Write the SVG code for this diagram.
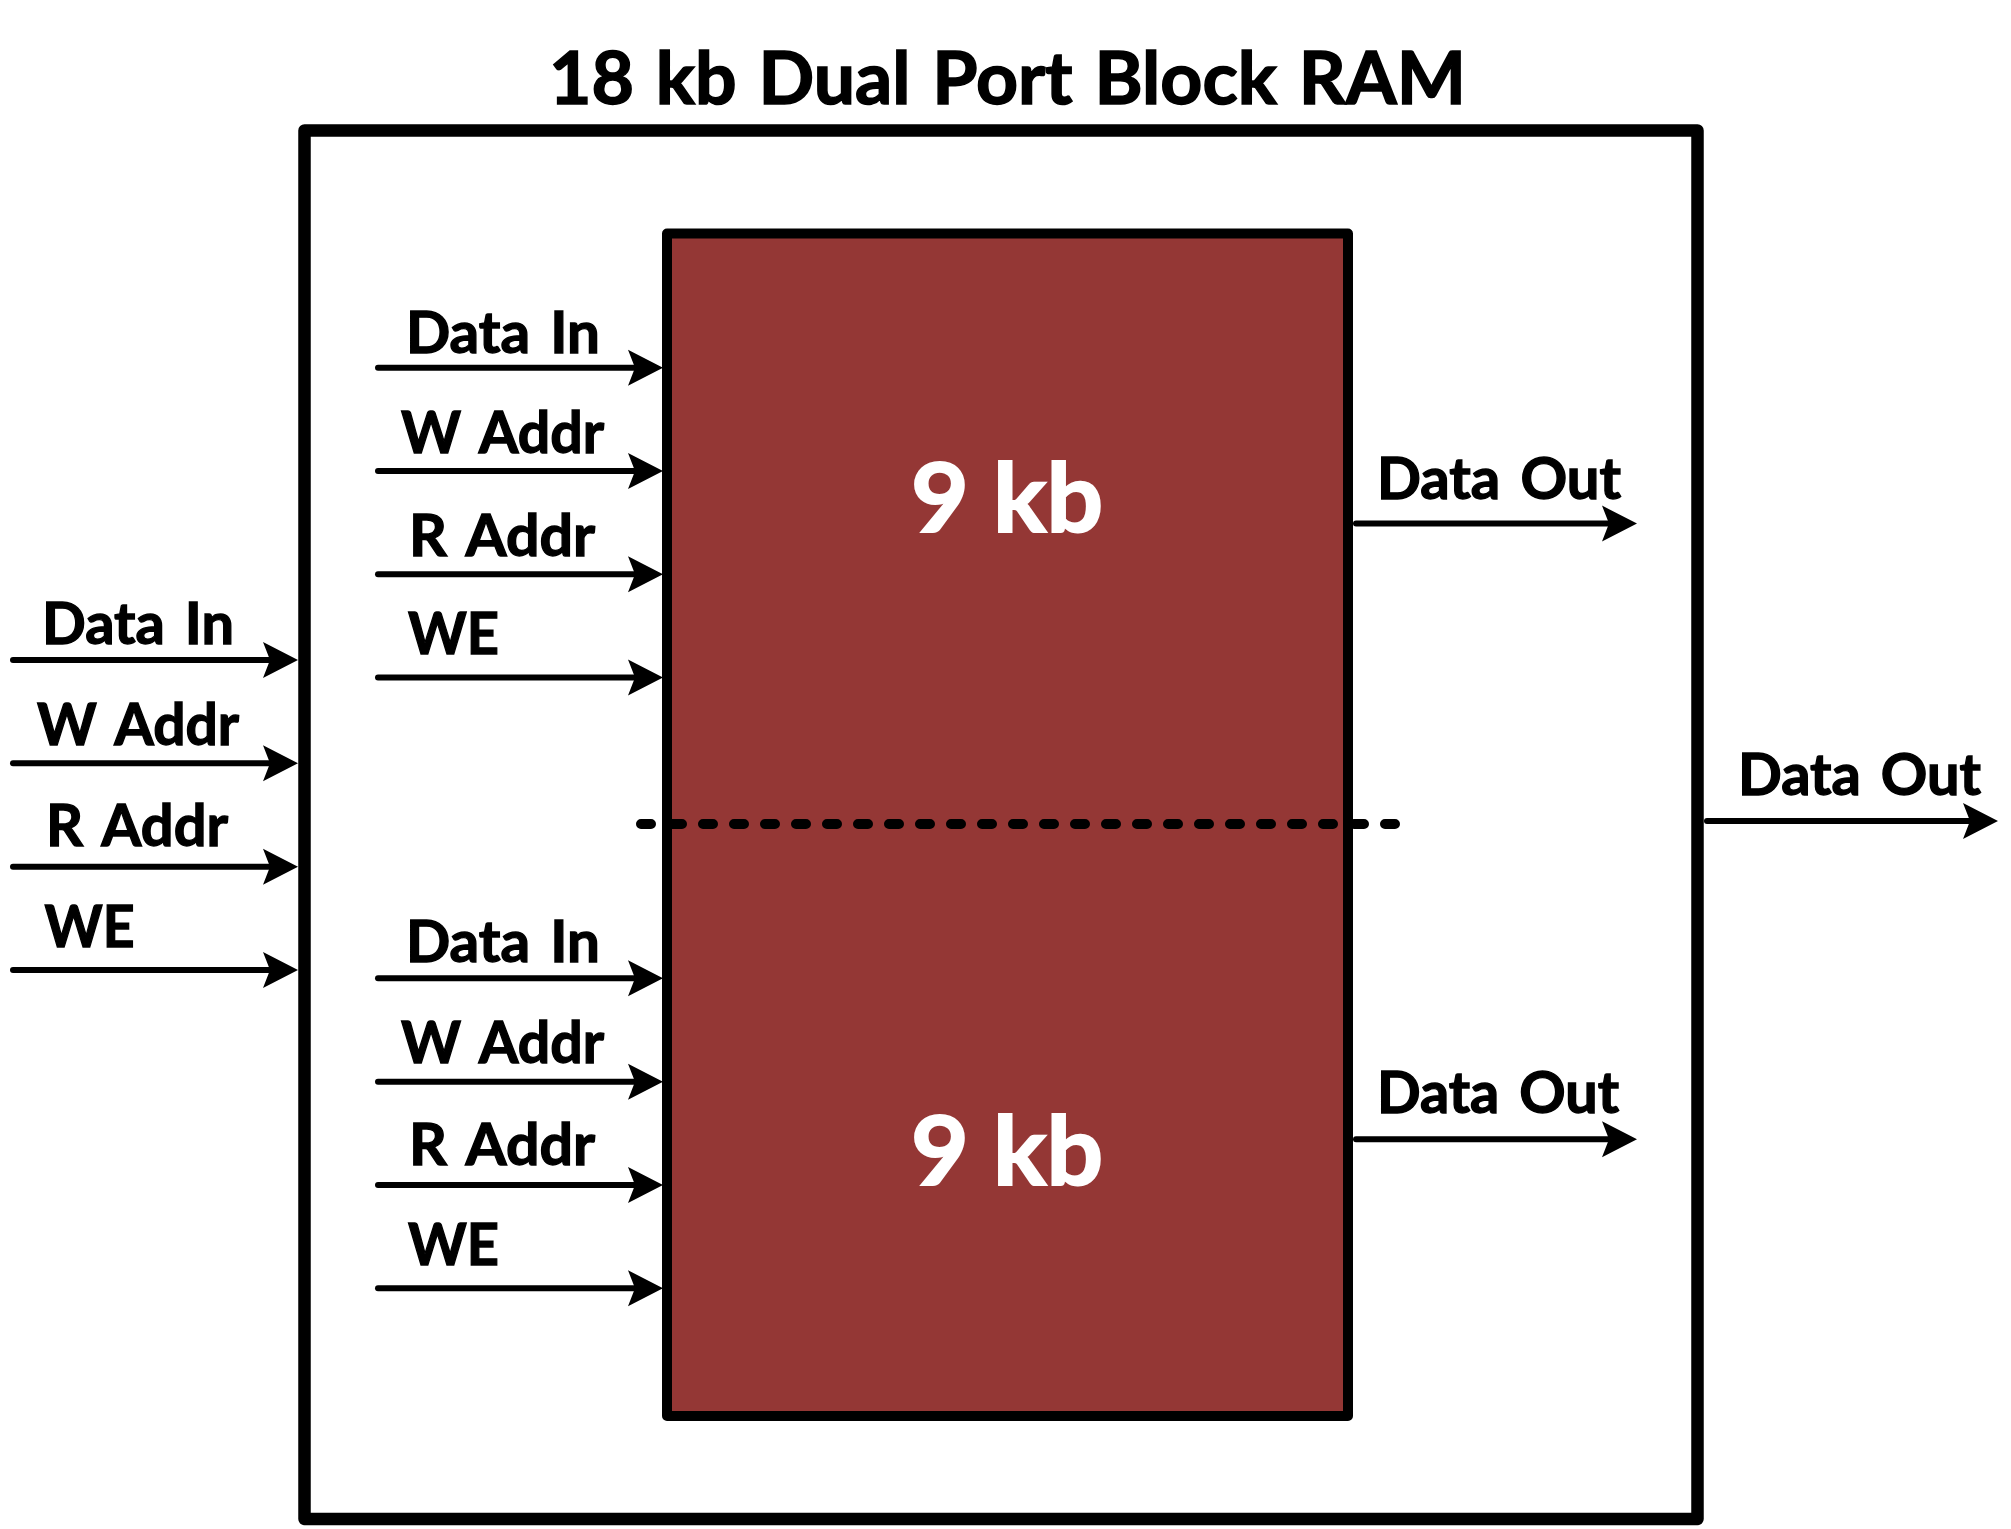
<svg xmlns="http://www.w3.org/2000/svg" width="2011" height="1529" viewBox="0 0 2011 1529">
  <style>
    .lbl { font-family: Lato, "Liberation Sans", sans-serif; font-weight: bold; font-size: 57px; fill: #000; stroke: #000; stroke-width: 1.3; word-spacing: 6px; }
    .title { font-family: Lato, "Liberation Sans", sans-serif; font-weight: bold; font-size: 73px; fill: #000; stroke: #000; stroke-width: 1.5; word-spacing: 4px; }
    .big { font-family: Lato, "Liberation Sans", sans-serif; font-weight: bold; font-size: 96px; fill: #fff; stroke: #fff; stroke-width: 2; }
    .wire { stroke: #000; stroke-width: 6; stroke-linecap: round; fill: none; marker-end: url(#arrow); }
  </style>
  <defs>
    <marker id="arrow" markerUnits="userSpaceOnUse" viewBox="0 -20 40 40" markerWidth="40" markerHeight="40" refX="7" refY="0" orient="auto" overflow="visible">
      <path d="M0,-18 L35,0 L0,18 L7,0 Z" fill="#000"/>
    </marker>
  </defs>
  <rect x="0" y="0" width="2011" height="1529" fill="#fff"/>

  <g id="title">
    <text class="title" x="549" y="104" textLength="917" lengthAdjust="spacingAndGlyphs">18 kb Dual Port Block RAM</text>
  </g>

  <g id="bram-18kb">
    <rect x="304.5" y="130.5" width="1393" height="1388.5" fill="#fff" stroke="#000" stroke-width="12.5" stroke-linejoin="round"/>
  </g>

  <g id="ram-9kb-pair">
    <rect x="667" y="233.5" width="681" height="1182.5" fill="#943735" stroke="#000" stroke-width="10" stroke-linejoin="round"/>
  </g>

  <g id="ram-9kb-top">
    <text class="big" x="911" y="531.7" textLength="192" lengthAdjust="spacingAndGlyphs">9 kb</text>
  </g>

  <g id="ram-9kb-bottom">
    <text class="big" x="911" y="1185" textLength="192" lengthAdjust="spacingAndGlyphs">9 kb</text>
  </g>

  <g id="split-line">
    <line x1="641" y1="824" x2="1395" y2="824" stroke="#000" stroke-width="10" stroke-linecap="round" stroke-dasharray="10 21"/>
  </g>

  <g id="connectors">
    <!-- outer inputs -->
    <line class="wire" x1="13" y1="660" x2="270" y2="660"/>
    <line class="wire" x1="13" y1="763.3" x2="270" y2="763.3"/>
    <line class="wire" x1="13" y1="866.7" x2="270" y2="866.7"/>
    <line class="wire" x1="13" y1="970" x2="270" y2="970"/>
    <!-- upper inner inputs -->
    <line class="wire" x1="378" y1="367.7" x2="635" y2="367.7"/>
    <line class="wire" x1="378" y1="471" x2="635" y2="471"/>
    <line class="wire" x1="378" y1="574.3" x2="635" y2="574.3"/>
    <line class="wire" x1="378" y1="677.6" x2="635" y2="677.6"/>
    <!-- lower inner inputs -->
    <line class="wire" x1="378" y1="978.3" x2="635" y2="978.3"/>
    <line class="wire" x1="378" y1="1081.7" x2="635" y2="1081.7"/>
    <line class="wire" x1="378" y1="1185" x2="635" y2="1185"/>
    <line class="wire" x1="378" y1="1288.3" x2="635" y2="1288.3"/>
    <!-- outputs -->
    <line class="wire" x1="1356" y1="523.6" x2="1609" y2="523.6"/>
    <line class="wire" x1="1356" y1="1139.3" x2="1609" y2="1139.3"/>
    <line class="wire" x1="1707" y1="821" x2="1970" y2="821"/>
  </g>

  <g id="port-labels">
    <text class="lbl" x="42" y="644" textLength="192" lengthAdjust="spacingAndGlyphs">Data In</text>
    <text class="lbl" x="37" y="745" textLength="202" lengthAdjust="spacingAndGlyphs">W Addr</text>
    <text class="lbl" x="46" y="846" textLength="182" lengthAdjust="spacingAndGlyphs">R Addr</text>
    <text class="lbl" x="44.5" y="946.7" textLength="90" lengthAdjust="spacingAndGlyphs">WE</text>

    <text class="lbl" x="406" y="352.7" textLength="194" lengthAdjust="spacingAndGlyphs">Data In</text>
    <text class="lbl" x="401" y="453.3" textLength="203" lengthAdjust="spacingAndGlyphs">W Addr</text>
    <text class="lbl" x="409" y="555.8" textLength="186" lengthAdjust="spacingAndGlyphs">R Addr</text>
    <text class="lbl" x="408" y="654.3" textLength="91" lengthAdjust="spacingAndGlyphs">WE</text>

    <text class="lbl" x="406" y="962" textLength="194" lengthAdjust="spacingAndGlyphs">Data In</text>
    <text class="lbl" x="401" y="1063.3" textLength="203" lengthAdjust="spacingAndGlyphs">W Addr</text>
    <text class="lbl" x="409" y="1165" textLength="186" lengthAdjust="spacingAndGlyphs">R Addr</text>
    <text class="lbl" x="408" y="1265" textLength="91" lengthAdjust="spacingAndGlyphs">WE</text>

    <text class="lbl" x="1377" y="499" textLength="244" lengthAdjust="spacingAndGlyphs">Data Out</text>
    <text class="lbl" x="1377" y="1112.7" textLength="242" lengthAdjust="spacingAndGlyphs">Data Out</text>
    <text class="lbl" x="1738" y="795" textLength="243" lengthAdjust="spacingAndGlyphs">Data Out</text>
  </g>
</svg>
